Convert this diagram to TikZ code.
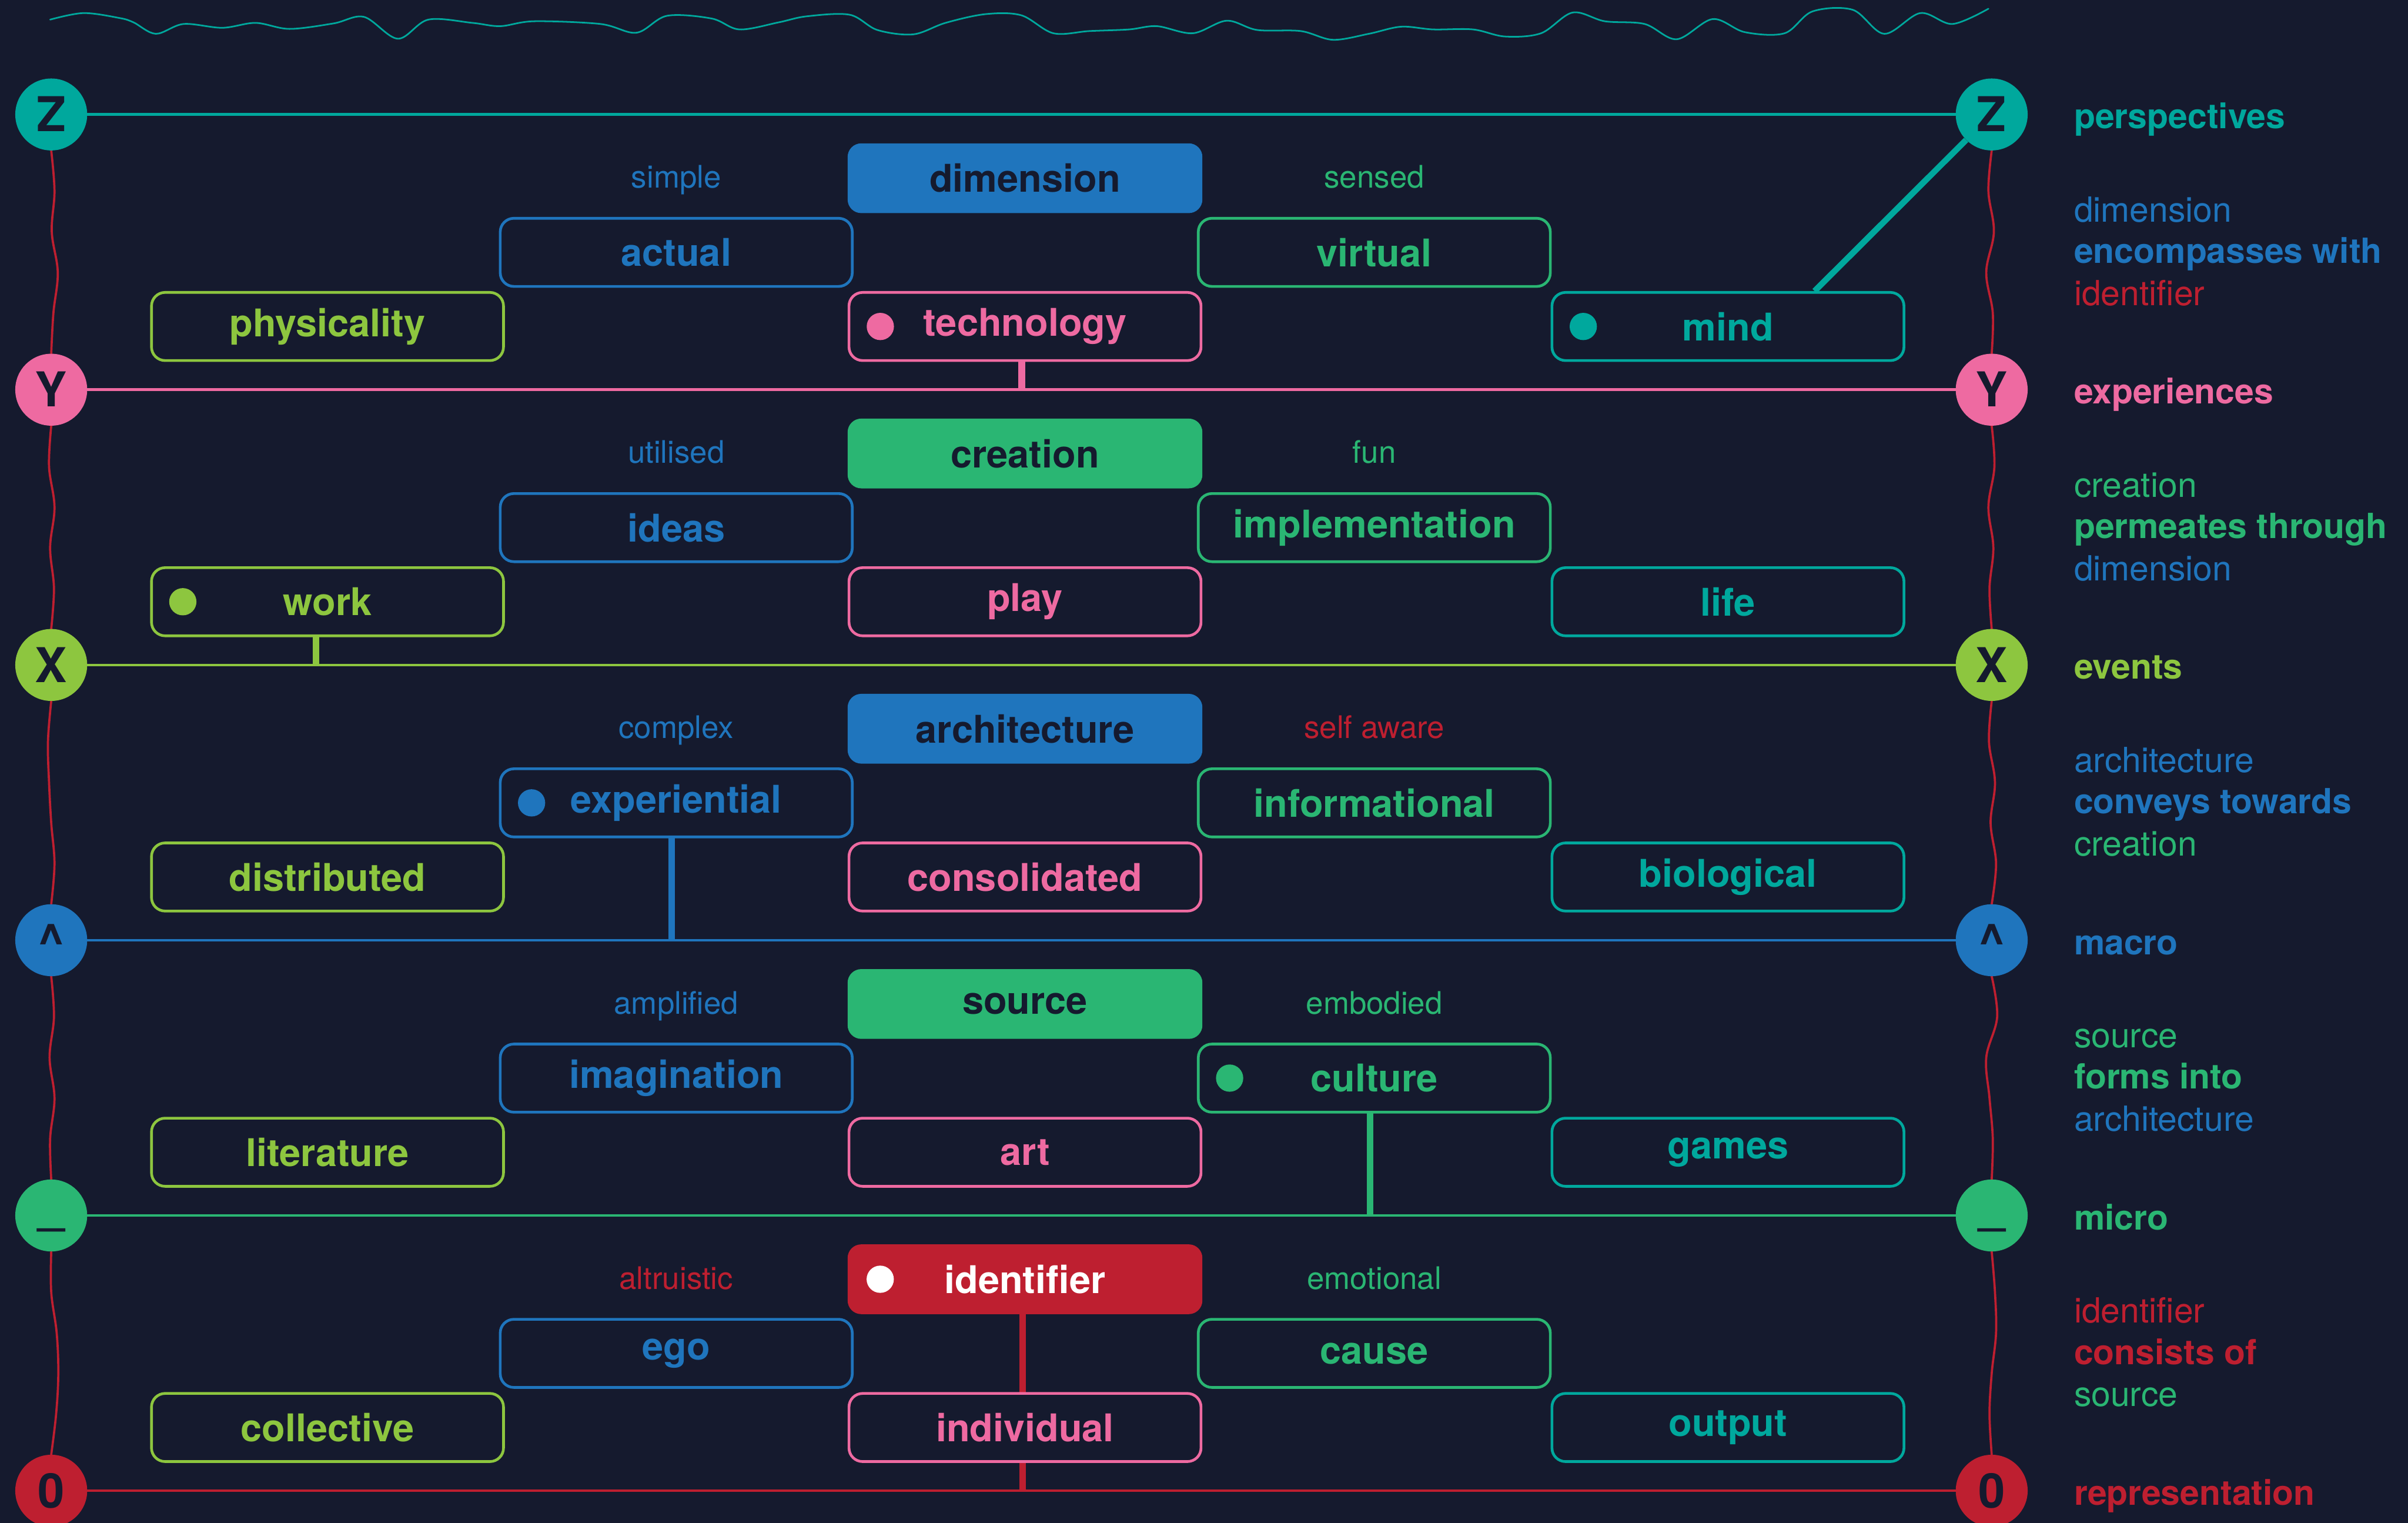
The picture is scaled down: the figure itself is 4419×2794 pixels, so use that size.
\documentclass[tikz,border=0pt]{standalone}
\usepackage{fontspec}
\setmainfont{TeX Gyre Heros}
\usetikzlibrary{calc}

\definecolor{bg}{HTML}{151A2E}
\definecolor{tealc}{HTML}{00A89D}
\definecolor{pinkc}{HTML}{EE6AA1}
\definecolor{limec}{HTML}{8DC63F}
\definecolor{bluec}{HTML}{1F75BD}
\definecolor{greenc}{HTML}{2AB673}
\definecolor{redc}{HTML}{BE1F30}

\pgfdeclarelayer{under}
\pgfsetlayers{under,main}

\newcommand\bxfont{\fontsize{70pt}{80pt}\selectfont\bfseries}
\newcommand\slfont{\fontsize{57pt}{66pt}\selectfont}
\newcommand\rtfont{\fontsize{63.5pt}{76pt}\selectfont}
\newcommand\rtbold{\fontsize{63.5pt}{76pt}\selectfont\bfseries}
\newcommand\ringfont{\fontsize{88pt}{96pt}\selectfont\bfseries}

\tikzset{
  cbox/.style={draw=#1, line width=5pt, rounded corners=25pt, fill=bg, text=#1,
               font=\bxfont, minimum width=646pt, minimum height=125pt, inner sep=0pt},
  hbox/.style={fill=#1, rounded corners=25pt, text=bg, font=\bxfont,
               minimum width=651pt, minimum height=128pt, inner sep=0pt},
  ring/.style={circle, fill=#1, text=bg, font=\ringfont, minimum size=132pt,
               inner sep=0pt, text height=63pt, text depth=0pt},
  hline/.style={draw=#1, line width=5pt},
  conn/.style={draw=#1, line width=12pt},
  wave/.style={draw=redc, line width=4pt, line cap=round},
  crest/.style={draw=tealc, line width=3pt, line cap=round},
  slab/.style={anchor=base, inner sep=0pt, font=\slfont, text=#1},
  rlab/.style={anchor=base west, inner sep=0pt, font=\rtfont, text=#1},
  rlabb/.style={anchor=base west, inner sep=0pt, font=\rtbold, text=#1},
}

% small filled marker inside the left end of a box
\newcommand\dotmark[2]{\fill[#2] ([xshift=60pt]#1.west) circle[radius=25pt];}

% hand-drawn looking vertical link between two ring nodes
\newcommand\wavyseg[6]{%
  \draw[wave] plot[smooth,tension=0.6] coordinates {
    (#1.south)
    ($(#1.south)!0.2!(#2.north)+(#3,0)$)
    ($(#1.south)!0.4!(#2.north)+(#4,0)$)
    ($(#1.south)!0.6!(#2.north)+(#5,0)$)
    ($(#1.south)!0.8!(#2.north)+(#6,0)$)
    (#2.north)};}

\begin{document}
\begin{tikzpicture}[x=1pt,y=-1pt]
\useasboundingbox (0,0) rectangle (4419,2794);

% ---- ring markers on both sides ----
\node[ring=tealc]  (lz) at (94,210)  {Z};
\node[ring=tealc]  (rz) at (3655,210) {Z};
\node[ring=pinkc]  (ly) at (94,715)  {Y};
\node[ring=pinkc]  (ry) at (3655,715) {Y};
\node[ring=limec]  (lx) at (94,1220) {X};
\node[ring=limec]  (rx) at (3655,1220) {X};
\node[ring=bluec]  (lc) at (94,1725) {\textasciicircum};
\node[ring=bluec]  (rc) at (3655,1725) {\textasciicircum};
\node[ring=greenc] (lu) at (94,2230) {\raisebox{18pt}{\_}};
\node[ring=greenc] (ru) at (3655,2230) {\raisebox{18pt}{\_}};
\node[ring=redc]   (lo) at (94,2735) {0};
\node[ring=redc]   (ro) at (3655,2735) {0};

% ---- right hand legend ----
\node[rlabb=tealc]  (lgz)  at (3806,236)  {perspectives};
\node[rlab=bluec]   (lg1a) at (3806,407)  {dimension};
\node[rlabb=bluec]  (lg1b) at (3806,483)  {encompasses with};
\node[rlab=redc]    (lg1c) at (3806,560)  {identifier};
\node[rlabb=pinkc]  (lgy)  at (3806,741)  {experiences};
\node[rlab=greenc]  (lg2a) at (3806,912)  {creation};
\node[rlabb=greenc] (lg2b) at (3806,988)  {permeates through};
\node[rlab=bluec]   (lg2c) at (3806,1065) {dimension};
\node[rlabb=limec]  (lgx)  at (3806,1246) {events};
\node[rlab=bluec]   (lg3a) at (3806,1417) {architecture};
\node[rlabb=bluec]  (lg3b) at (3806,1493) {conveys towards};
\node[rlab=greenc]  (lg3c) at (3806,1570) {creation};
\node[rlabb=bluec]  (lgc)  at (3806,1751) {macro};
\node[rlab=greenc]  (lg4a) at (3806,1922) {source};
\node[rlabb=greenc] (lg4b) at (3806,1998) {forms into};
\node[rlab=bluec]   (lg4c) at (3806,2075) {architecture};
\node[rlabb=greenc] (lgu)  at (3806,2256) {micro};
\node[rlab=redc]    (lg5a) at (3806,2427) {identifier};
\node[rlabb=redc]   (lg5b) at (3806,2503) {consists of};
\node[rlab=greenc]  (lg5c) at (3806,2580) {source};
\node[rlabb=redc]   (lgo)  at (3806,2761) {representation};

% ---- band Z / Y ----
\node[slab=bluec]  (simple)    at (1241,345) {simple};
\node[hbox=bluec]  (dimension) at (1881,327) {dimension};
\node[slab=greenc] (sensed)    at (2522,345) {sensed};
\node[cbox=bluec]  (actual)    at (1241,463) {actual};
\node[cbox=greenc] (virtual)   at (2522,463) {virtual};
\node[cbox=limec]  (physicality) at (601,599) {physicality};
\node[cbox=pinkc]  (tech)      at (1881,599) {technology};
\node[cbox=tealc]  (mind)      at (3171,599) {mind};

% ---- band Y / X ----
\node[slab=bluec]  (utilised)  at (1241,850) {utilised};
\node[hbox=greenc] (creation)  at (1881,832) {creation};
\node[slab=greenc] (fun)       at (2522,850) {fun};
\node[cbox=bluec]  (ideas)     at (1241,968) {ideas};
\node[cbox=greenc] (implementation) at (2522,968) {implementation};
\node[cbox=limec]  (work)      at (601,1104) {work};
\node[cbox=pinkc]  (play)      at (1881,1104) {play};
\node[cbox=tealc]  (life)      at (3171,1104) {life};

% ---- band X / ^ ----
\node[slab=bluec]  (complex)   at (1241,1355) {complex};
\node[hbox=bluec]  (architecture) at (1881,1337) {architecture};
\node[slab=redc]   (selfaware) at (2522,1355) {self aware};
\node[cbox=bluec]  (exper)     at (1241,1473) {experiential};
\node[cbox=greenc] (informational) at (2522,1473) {informational};
\node[cbox=limec]  (distributed) at (601,1609) {distributed};
\node[cbox=pinkc]  (consolidated) at (1881,1609) {consolidated};
\node[cbox=tealc]  (biological) at (3171,1609) {biological};

% ---- band ^ / _ ----
\node[slab=bluec]  (amplified) at (1241,1860) {amplified};
\node[hbox=greenc] (source)    at (1881,1842) {source};
\node[slab=greenc] (embodied)  at (2522,1860) {embodied};
\node[cbox=bluec]  (imagination) at (1241,1978) {imagination};
\node[cbox=greenc] (cult)      at (2522,1978) {culture};
\node[cbox=limec]  (literature) at (601,2114) {literature};
\node[cbox=pinkc]  (art)       at (1881,2114) {art};
\node[cbox=tealc]  (games)     at (3171,2114) {games};

% ---- band _ / 0 ----
\node[slab=redc]   (altruistic) at (1241,2365) {altruistic};
\node[hbox=redc, text=white] (ident) at (1881,2347) {identifier};
\node[slab=greenc] (emotional) at (2522,2365) {emotional};
\node[cbox=bluec]  (ego)       at (1241,2483) {ego};
\node[cbox=greenc] (cause)     at (2522,2483) {cause};
\node[cbox=limec]  (collective) at (601,2619) {collective};
\node[cbox=pinkc]  (individual) at (1881,2619) {individual};
\node[cbox=tealc]  (output)    at (3171,2619) {output};

% ---- markers ----
\dotmark{tech}{pinkc}
\dotmark{mind}{tealc}
\dotmark{work}{limec}
\dotmark{exper}{bluec}
\dotmark{cult}{greenc}
\dotmark{ident}{white}

\begin{pgfonlayer}{under}
  \fill[bg] (0,0) rectangle (4419,2794);

  % wavy rule across the top
  \draw[crest] plot[smooth,tension=0.55] coordinates {
    (92,36) (153,24) (219,33) (245,41) (286,62) (337,44) (408,51) (469,42)
    (531,53) (612,43) (668,31) (730,71) (786,36) (867,42) (918,48) (980,39)
    (1102,44) (1168,60) (1224,29) (1306,34) (1357,54) (1429,41) (1480,30)
    (1559,27) (1610,55) (1676,63) (1735,42) (1808,26) (1874,28) (1933,61)
    (1999,57) (2072,54) (2123,48) (2189,61) (2251,38) (2307,55) (2387,57)
    (2446,73) (2512,62) (2571,49) (2630,54) (2703,54) (2762,67) (2828,61)
    (2886,23) (2945,39) (3018,44) (3077,72) (3143,35) (3202,59) (3275,61)
    (3326,21) (3400,18) (3458,62) (3524,24) (3583,44) (3649,16)};

  % level rules
  \draw[hline=tealc]  (lz) -- (rz);
  \draw[hline=pinkc]  (ly) -- (ry);
  \draw[hline=limec]  (lx) -- (rx);
  \draw[hline=bluec]  (lc) -- (rc);
  \draw[hline=greenc] (lu) -- (ru);
  \draw[hline=redc]   (lo) -- (ro);

  % wavy links down each side
  \wavyseg{lz}{ly}{6}{1}{12}{4}
  \wavyseg{ly}{lx}{-4}{6}{-2}{5}
  \wavyseg{lx}{lc}{-6}{-4}{0}{6}
  \wavyseg{lc}{lu}{5}{-3}{6}{-2}
  \wavyseg{lu}{lo}{0}{10}{13}{9}
  \wavyseg{rz}{ry}{-6}{4}{-10}{2}
  \wavyseg{ry}{rx}{5}{-6}{3}{-4}
  \wavyseg{rx}{rc}{-5}{6}{-2}{8}
  \wavyseg{rc}{ru}{10}{-10}{-4}{2}
  \wavyseg{ru}{ro}{6}{8}{0}{-4}

  % connectors from boxes to rules
  \coordinate (k1) at ([xshift=-6pt]tech.center);
  \draw[conn=pinkc] (k1) -- (k1 |- ly);
  \coordinate (k2) at ([xshift=-21pt]work.center);
  \draw[conn=limec] (k2) -- (k2 |- lx);
  \coordinate (k3) at ([xshift=-8pt]exper.center);
  \draw[conn=bluec] (k3) -- (k3 |- lc);
  \coordinate (k4) at ([xshift=-8pt]cult.center);
  \draw[conn=greenc] (k4) -- (k4 |- lu);
  \coordinate (k5) at ([xshift=-4pt]ident.center);
  \draw[conn=redc] (k5) -- (k5 |- lo);
  \coordinate (k6) at ([xshift=159pt]mind.north);
  \draw[conn=tealc, line width=11pt] (k6) -- (rz);
\end{pgfonlayer}
\end{tikzpicture}
\end{document}
